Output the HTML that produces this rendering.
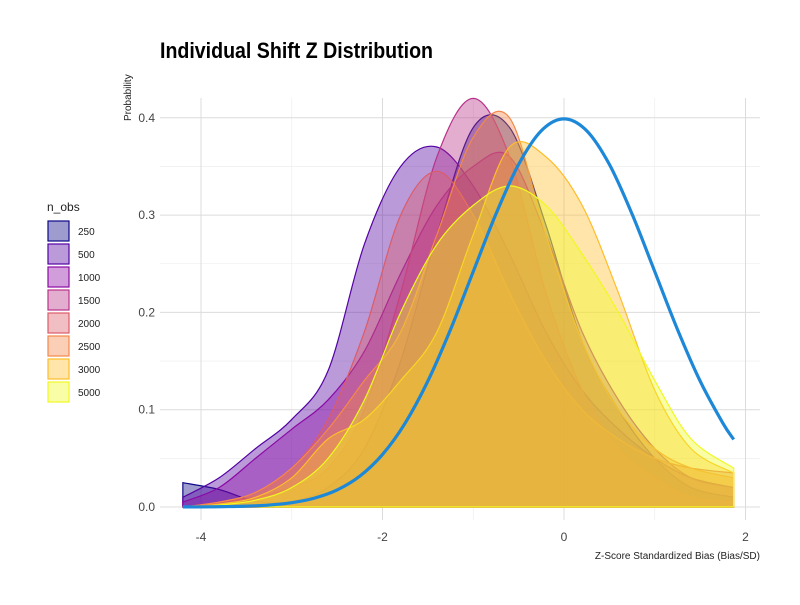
<!DOCTYPE html>
<html><head><meta charset="utf-8"><style>
body{margin:0;background:#fff;font-family:"Liberation Sans",sans-serif}
</style></head><body>
<svg id="c" width="800" height="600" xmlns="http://www.w3.org/2000/svg">
<rect width="800" height="600" fill="#fff"/>
<text x="160" y="58" font-size="22" font-weight="bold" fill="#000" textLength="273" lengthAdjust="spacingAndGlyphs">Individual Shift Z Distribution</text>
<text transform="translate(131,121) rotate(-90)" font-size="10" fill="#222">Probability</text>
<text x="760" y="559" font-size="10" fill="#222" text-anchor="end">Z-Score Standardized Bias (Bias/SD)</text>
<g id="grid"></g><g id="areas"></g><g id="axes"></g><g id="legend"></g>
</svg>
<script>
const xGrid=[-4.2,-3.8,-3.4,-3,-2.6,-2.2,-1.8,-1.4,-1,-0.6,-0.2,0.2,0.6,1,1.4,1.87];
const seriesNames=['250','500','1000','1500','2000','2500','3000','5000'];
const s250=[0.025,0.018,0.006,0.006,0.02,0.06,0.15,0.28,0.39,0.39,0.29,0.17,0.10,0.05,0.02,0.01];
const s500=[0.01,0.03,0.06,0.09,0.14,0.27,0.35,0.37,0.33,0.26,0.18,0.12,0.08,0.05,0.03,0.02];
const s1000=[0.005,0.02,0.05,0.08,0.11,0.16,0.24,0.31,0.35,0.36,0.28,0.18,0.11,0.06,0.03,0.02];
const s1500=[0.0,0.005,0.01,0.02,0.04,0.10,0.22,0.36,0.42,0.36,0.22,0.12,0.06,0.03,0.01,0.005];
const s2000=[0.0,0.005,0.015,0.04,0.09,0.18,0.30,0.345,0.30,0.22,0.15,0.10,0.07,0.05,0.04,0.035];
const s2500=[0.0,0.005,0.015,0.04,0.08,0.13,0.18,0.28,0.38,0.40,0.28,0.17,0.10,0.06,0.04,0.03];
const s3000=[0.0,0.003,0.01,0.03,0.07,0.09,0.13,0.18,0.28,0.37,0.36,0.31,0.22,0.12,0.06,0.035];
const s5000=[0.0,0.002,0.007,0.02,0.05,0.11,0.20,0.27,0.31,0.33,0.31,0.26,0.20,0.13,0.07,0.04];
const normX=[-4.2,-4,-3.75,-3.5,-3.25,-3,-2.75,-2.5,-2.25,-2,-1.75,-1.5,-1.25,-1,-0.75,-0.5,-0.25,0,0.25,0.5,0.75,1,1.25,1.5,1.75,1.87];
const normY=[0.0001,0.0001,0.0004,0.0009,0.002,0.0044,0.0091,0.0175,0.0317,0.054,0.0863,0.1295,0.1826,0.242,0.3011,0.3521,0.3867,0.3989,0.3867,0.3521,0.3011,0.242,0.1826,0.1295,0.0863,0.0694];
const xTicks=[-4,-2,0,2];
const yTicks=[0,0.1,0.2,0.3,0.4];
const colors=['#0d0887','#5402a3','#8b0aa5','#b83289','#db5c68','#f48849','#febd2a','#f0f921'];
const allS=[s250,s500,s1000,s1500,s2000,s2500,s3000,s5000];
const X=v=>564+90.75*v, Y=v=>507-973*v;
const NS='http://www.w3.org/2000/svg';
function mk(t,a,p){const e=document.createElementNS(NS,t);for(const k in a)e.setAttribute(k,a[k]);p.appendChild(e);return e;}
function smooth(xs,ys){const P=xs.map((x,i)=>[X(x),Y(ys[i])]);let d='M'+P[0][0]+','+P[0][1];
for(let i=0;i<P.length-1;i++){const p0=P[Math.max(0,i-1)],p1=P[i],p2=P[i+1],p3=P[Math.min(P.length-1,i+2)];
d+=' C'+(p1[0]+(p2[0]-p0[0])/6)+','+(p1[1]+(p2[1]-p0[1])/6)+' '+(p2[0]-(p3[0]-p1[0])/6)+','+(p2[1]-(p3[1]-p1[1])/6)+' '+p2[0]+','+p2[1];}return d;}
const g=document.getElementById('grid');
[-3,-1,1].forEach(v=>{const l=mk('line',{x1:X(v),x2:X(v),y1:98,y2:520,stroke:'#ebebeb','stroke-width':0.6},g);

});
[0.05,0.15,0.25,0.35].forEach(v=>{const l=mk('line',{x1:160,x2:760,y1:Y(v),y2:Y(v),stroke:'#ebebeb','stroke-width':0.6},g);

});
const ax=document.getElementById('axes');
xTicks.forEach(v=>{const l=mk('line',{x1:X(v),x2:X(v),y1:98,y2:520,stroke:'#dcdcdc','stroke-width':1},g);


const t=mk('text',{x:X(v),y:541,'font-size':12,fill:'#444','text-anchor':'middle'},ax);t.textContent=v;

});
yTicks.forEach(v=>{const l=mk('line',{x1:160,x2:760,y1:Y(v),y2:Y(v),stroke:'#dcdcdc','stroke-width':1},g);


const t=mk('text',{x:155,y:Y(v)+4,'font-size':12,fill:'#444','text-anchor':'end'},ax);t.textContent=v.toFixed(1);

});
const ar=document.getElementById('areas');
allS.forEach((s,i)=>{const d=smooth(xGrid,s);
const p=mk('path',{d:d+' L'+X(xGrid[xGrid.length-1])+','+Y(0)+' L'+X(xGrid[0])+','+Y(0)+'Z',fill:colors[i],'fill-opacity':0.4,stroke:colors[i],'stroke-width':1.2},ar);

});
const nl=mk('path',{d:smooth(normX,normY),fill:'none',stroke:'#1e88d8','stroke-width':3.2},ar);


const lg=document.getElementById('legend');
const lt=mk('text',{x:47,y:211,'font-size':12,fill:'#222'},lg);lt.textContent='n_obs';


seriesNames.forEach((n,i)=>{const y=221+i*23;
const r=mk('rect',{x:48,y:y,width:21,height:20,fill:colors[i],'fill-opacity':0.4,stroke:colors[i],'stroke-width':1.2},lg);


const t=mk('text',{x:78,y:y+14,'font-size':10,fill:'#222'},lg);t.textContent=n;

});
</script>
</body></html>
